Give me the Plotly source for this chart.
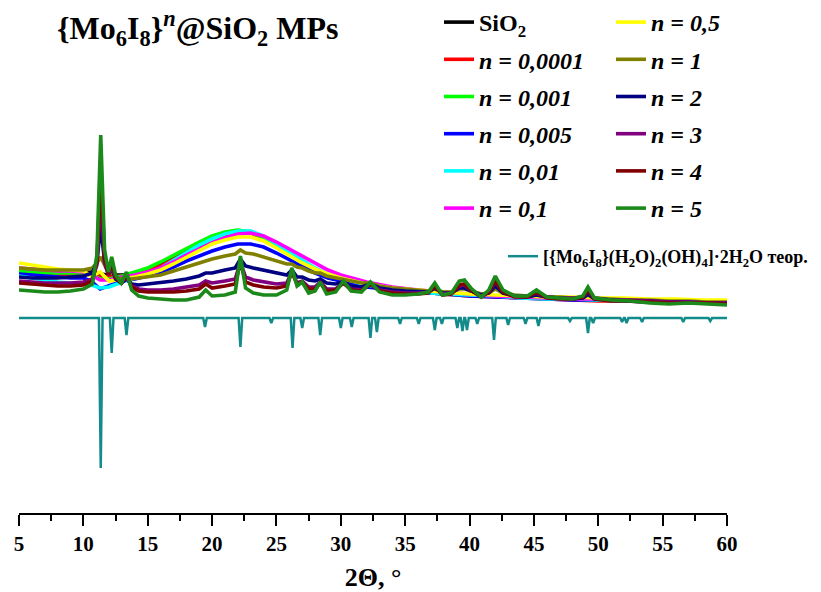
import plotly.graph_objects as go

# ---------------- data (2Theta in degrees, intensity in a.u.) ----------------
XA = [5, 6, 7, 8, 9, 10, 10.6, 11.3, 12, 13, 14, 15, 16, 17, 18, 19, 20, 21, 22, 23, 24,
      25, 26, 27, 28, 29, 30, 32, 34, 36, 38, 40, 42, 44, 46, 48, 50, 52, 54, 56, 58, 60]

SIO2 = [128, 127, 126, 126, 127, 128, 128, 126, 125, 125, 127, 130, 135, 142, 149, 155, 161, 166, 169, 168, 163,
        155, 146, 138, 131, 125, 121, 115, 111, 109, 107, 105, 104, 103, 102, 101, 100, 100, 99, 99, 98, 98]
N_00001 = [127, 126, 125, 125, 126, 127, 126, 123, 123, 124, 126, 129, 134, 141, 148, 154, 160, 165, 168, 167, 162,
           154, 145, 137, 130, 124, 120, 114, 110, 108, 106, 104, 103, 102, 101, 100, 99, 99, 98, 98, 97, 97]
N_0001 = [129, 128, 127, 127, 127, 127, 125, 121, 121, 124, 128, 132, 138, 145, 152, 158, 164, 168, 170, 168, 162,
          154, 145, 137, 130, 124, 120, 114, 110, 108, 106, 105, 104, 103, 102, 101, 100, 100, 99, 99, 98, 98]
N_0005 = [126, 125, 124, 123, 122, 122, 119, 111, 114, 119, 121, 124, 128, 133, 139, 144, 149, 153, 156, 156, 153,
          147, 140, 133, 127, 122, 119, 113, 110, 108, 106, 104, 103, 102, 101, 100, 100, 99, 98, 98, 97, 97]
N_001 = [124, 122, 120, 118, 117, 117, 115, 112, 113, 118, 122, 126, 132, 140, 148, 155, 161, 166, 169, 169, 164,
         156, 147, 139, 132, 126, 122, 115, 111, 108, 106, 105, 104, 102, 101, 101, 100, 99, 99, 98, 98, 97]
N_01 = [132, 131, 130, 129, 129, 128, 125, 120, 120, 123, 125, 128, 132, 138, 145, 151, 157, 162, 166, 167, 164,
        158, 151, 143, 136, 130, 125, 118, 113, 110, 108, 106, 104, 103, 102, 101, 101, 100, 100, 99, 99, 98]
N_05 = [137, 135, 133, 131, 130, 129, 124, 128, 119, 121, 123, 126, 130, 136, 143, 150, 156, 160, 163, 163, 159,
        152, 144, 137, 131, 126, 122, 116, 112, 110, 108, 106, 105, 104, 103, 103, 102, 102, 101, 101, 100, 100]

XC = [5, 6, 7, 8, 9, 10, 10.7, 11.05, 11.35, 11.65,
      11.95, 12.2, 12.5, 12.95, 13.35, 13.75, 14.3, 15, 16, 17,
      18, 19, 19.5, 20, 21, 21.8, 22.2, 22.6, 23.2, 24,
      25, 25.8, 26.2, 26.6, 27.0, 27.5, 28.0, 28.4, 28.9, 29.6,
      30.2, 30.8, 31.6, 32.3, 33.0, 34, 35, 36, 36.8, 37.3,
      37.9, 38.6, 39.2, 39.6, 40.1, 40.9, 41.5, 42.0, 42.6, 43.5,
      44.5, 45.2, 46, 47, 48, 48.8, 49.2, 49.7, 51, 52.5,
      54, 55.5, 57, 58.5, 60]

N_1 = [132, 131, 130, 130, 130, 130, 132, 137, 143, 135,
       127, 128, 123, 121, 122, 121, 122, 123, 125, 129,
       133, 137, 139, 141, 144, 146, 150, 147, 146, 143,
       139, 136, 136, 133, 132, 129, 127, 127, 124, 122,
       121, 119, 117, 117, 114, 112, 111, 110, 109, 111,
       108, 108, 111, 111, 109, 106, 107, 111, 107, 105,
       104, 105, 103, 103, 102, 102, 105, 102, 101, 100,
       100, 99, 99, 98, 98]
N_2 = [123, 122, 122, 122, 123, 124, 127, 138, 175, 138,
       126, 132, 121, 117, 121, 116, 115, 116, 117, 119,
       121, 124, 127, 127, 130, 132, 141, 134, 132, 130,
       127, 125, 130, 123, 123, 120, 119, 121, 117, 116,
       118, 114, 113, 116, 112, 110, 109, 108, 108, 112,
       107, 107, 112, 112, 109, 105, 107, 114, 107, 104,
       103, 105, 103, 102, 101, 102, 106, 101, 100, 99,
       99, 98, 98, 97, 97]
N_3 = [119, 118, 117, 117, 117, 118, 121, 135, 205, 138,
       125, 134, 122, 117, 123, 114, 111, 110, 110, 111,
       113, 115, 119, 117, 119, 121, 138, 123, 120, 118,
       116, 117, 128, 117, 119, 113, 113, 118, 111, 111,
       117, 111, 110, 116, 110, 108, 107, 107, 108, 114,
       106, 107, 114, 115, 110, 104, 108, 118, 108, 104,
       104, 107, 103, 102, 102, 103, 109, 102, 100, 100,
       99, 98, 98, 97, 97]
N_4 = [117, 116, 115, 114, 114, 115, 119, 138, 230, 142,
       126, 138, 123, 117, 125, 113, 109, 108, 108, 108,
       109, 111, 116, 112, 114, 116, 138, 118, 115, 113,
       112, 114, 128, 116, 118, 111, 111, 117, 109, 110,
       117, 110, 109, 116, 109, 107, 106, 106, 107, 114,
       105, 106, 115, 116, 110, 103, 108, 119, 108, 103,
       103, 108, 102, 101, 101, 103, 110, 101, 99, 99,
       98, 97, 97, 97, 96]
N_5 = [110, 109, 108, 108, 109, 111, 116, 145, 265, 150,
       128, 143, 125, 117, 128, 110, 104, 102, 101, 100,
       100, 103, 110, 104, 105, 108, 144, 112, 107, 105,
       105, 110, 132, 114, 118, 107, 109, 118, 106, 108,
       119, 109, 108, 118, 108, 105, 105, 106, 108, 117,
       105, 107, 119, 120, 112, 103, 110, 124, 110, 104,
       104, 110, 103, 102, 101, 104, 113, 102, 100, 99,
       97, 96, 97, 96, 95]

# theoretical pattern (drawn inverted below the experimental ones)
TEO_BASE = 82
TEO_POS = [11.35, 12.2, 13.35, 19.45, 22.2, 24.6, 26.25, 27.0, 28.4, 30.0, 30.85, 32.3, 32.8,
           34.6, 36.05, 37.3, 37.85, 39.05, 39.45, 39.8, 40.6, 41.9, 43.0, 44.35, 45.35, 47.8,
           49.2, 49.6, 51.85, 52.2, 53.4, 56.6, 58.7]
TEO_INT = [150, 35, 17, 9, 29, 5, 30, 10, 17, 10, 9, 20, 14,
           6, 6, 12, 6, 10, 13, 12, 6, 22, 7, 6, 8, 3,
           15, 5, 4, 5, 4, 4, 3]

TITLE = "{Mo<sub>6</sub>I<sub>8</sub>}<sup><i>n</i></sup>@SiO<sub>2</sub> MPs"
NAMES = ["SiO<sub>2</sub>", "<i>n = 0,0001</i>", "<i>n = 0,001</i>", "<i>n = 0,005</i>",
         "<i>n = 0,01</i>", "<i>n = 0,1</i>", "<i>n = 0,5</i>", "<i>n = 1</i>", "<i>n = 2</i>",
         "<i>n = 3</i>", "<i>n = 4</i>", "<i>n = 5</i>"]
TEO_NAME = "[{Mo<sub>6</sub>I<sub>8</sub>}(H<sub>2</sub>O)<sub>2</sub>(OH)<sub>4</sub>]·2H<sub>2</sub>O теор."
COLORS = ["#000000", "#ff0000", "#00ff00", "#0000ff", "#00ffff", "#ff00ff", "#ffff00",
          "#808000", "#000080", "#800080", "#800000", "#1b8a1b"]
TEAL = "#138b8b"

series = [(XA, SIO2), (XA, N_00001), (XA, N_0001), (XA, N_0005), (XA, N_001), (XA, N_01), (XA, N_05),
          (XC, N_1), (XC, N_2), (XC, N_3), (XC, N_4), (XC, N_5)]

FONT = "Liberation Serif"
fig = go.Figure()
for i, ((xs, ys), name, col) in enumerate(zip(series, NAMES, COLORS)):
    fig.add_trace(go.Scatter(x=xs, y=ys, mode="lines", name=name,
                             line=dict(color=col, width=3.6),
                             legend="legend" if i < 6 else "legend2",
                             legendgroup=f"g{i}"))

tx, ty = [5], [TEO_BASE]
for p, d in zip(TEO_POS, TEO_INT):
    tx += [p - 0.14, p, p + 0.14]
    ty += [TEO_BASE, TEO_BASE - d, TEO_BASE]
tx.append(60)
ty.append(TEO_BASE)
fig.add_trace(go.Scatter(x=tx, y=ty, mode="lines", name=TEO_NAME,
                         line=dict(color=TEAL, width=2.5), legend="legend3"))

# the page body adds an 8 px offset; the figure is sized so the plot lands where the reference has it
OFF = 8
W, H = 821 - OFF, 592 - OFF
L, T = 19 - OFF, 13 - OFF
R, B = W - (727 - OFF), H - (513 - OFF)


def px(xp):
    return (xp - 19) / 708


def py(yp):
    return (513 - yp) / 500


leg_font = dict(family=FONT, size=24, color="black", weight="bold")
fig.update_layout(
    width=W, height=H,
    margin=dict(l=L, r=R, t=T, b=B, autoexpand=False),
    paper_bgcolor="white", plot_bgcolor="white",
    font=dict(family=FONT, color="black"),
    legend=dict(x=px(439), y=py(0), xanchor="left", yanchor="top", font=leg_font,
                bgcolor="rgba(0,0,0,0)", tracegroupgap=3),
    legend2=dict(x=px(611), y=py(0), xanchor="left", yanchor="top", font=leg_font,
                 bgcolor="rgba(0,0,0,0)", tracegroupgap=3),
    legend3=dict(x=px(503), y=py(238), xanchor="left", yanchor="top",
                 font=dict(family=FONT, size=18, color="black", weight="bold"),
                 bgcolor="rgba(0,0,0,0)"),
    showlegend=True,
)
fig.add_annotation(text=TITLE, xref="paper", yref="paper", x=px(55), y=py(28.5),
                   xanchor="left", yanchor="middle", showarrow=False,
                   font=dict(family=FONT, size=32, weight="bold", color="black"))
fig.update_xaxes(range=[5, 60], tick0=5, dtick=5, ticks="outside", ticklen=11, tickwidth=2,
                 tickcolor="black", showline=True, linecolor="black", linewidth=2,
                 showgrid=False, zeroline=False,
                 tickfont=dict(family=FONT, size=21, weight="bold", color="black"),
                 minor=dict(ticks="outside", ticklen=6, tickwidth=2, tickcolor="black", dtick=2.5, tick0=5),
                 title=dict(text="2Θ, °", font=dict(family=FONT, size=26, weight="bold", color="black"),
                            standoff=16))
fig.update_yaxes(range=[-113, 387], visible=False, showgrid=False, zeroline=False)

fig.write_html("out.html", config={"displayModeBar": False})
